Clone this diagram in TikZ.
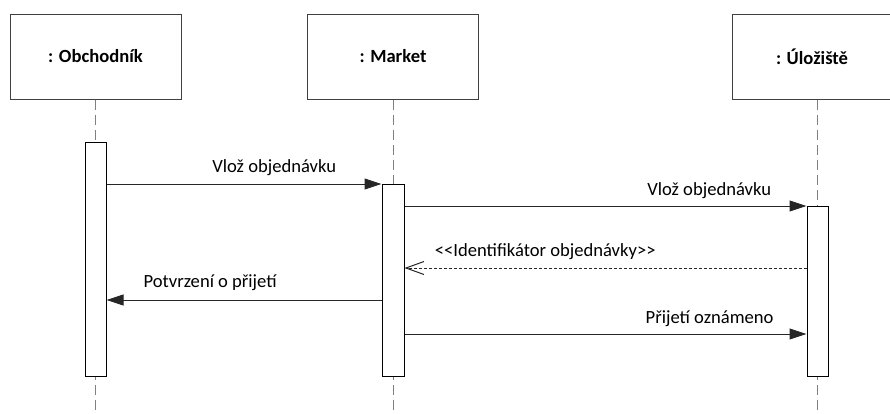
\documentclass[tikz,border=0pt]{standalone}
\usepackage{fontspec}
\setmainfont{Carlito}
\usepackage{xcolor}
\usepackage{tikz}
\usetikzlibrary{arrows.meta}
\definecolor{frame}{HTML}{404040}
\definecolor{life}{HTML}{808080}
\definecolor{wire}{HTML}{262626}
\tikzset{
  roleBox/.style={draw=frame, line width=1pt, minimum width=171pt, minimum height=85pt, inner sep=0pt, font=\fontsize{18.6}{22}\selectfont\bfseries},
  lifeLine/.style={draw=life, line width=1pt, dash pattern=on 10pt off 5pt},
  actBox/.style={draw=black, fill=white, line width=1pt, minimum width=21pt, inner sep=0pt},
  callMsg/.style={draw=wire, line width=1pt, -{Triangle[length=17pt,width=11pt]}},
  replyMsg/.style={draw=wire, line width=1pt, dash pattern=on 3pt off 2pt, -{Straight Barb[length=18pt,width=13pt]}},
  msgLbl/.style={font=\fontsize{18.6}{22}\selectfont, inner sep=0pt, anchor=base, text=black},
}

\begin{document}
\begin{tikzpicture}[x=1pt, y=-1pt]
  \useasboundingbox (0,0) rectangle (890,413);

  \node[roleBox] (obch) at (95.5,56.5) {: Obchodník};
  \node[roleBox] (market) at (393,56.5) {: Market};
  \node[roleBox, minimum width=160pt] (ulo) at (812,56.5) {: Úložiště};

  \coordinate (endO) at (95.5,413);
  \coordinate (endM) at (393,413);
  \coordinate (endU) at (817.5,413);
  \draw[lifeLine] (obch.south -| endO) -- (endO);
  \draw[lifeLine] (market.south -| endM) -- (endM);
  \draw[lifeLine] (ulo.south -| endU) -- (endU);

  \node[actBox, minimum height=234pt] (actO) at (95.5,259) {};
  \node[actBox, minimum width=22pt, minimum height=192pt] (actM) at (393,280) {};
  \node[actBox, minimum height=170pt] (actU) at (817.5,291) {};

  % message levels
  \coordinate (m1) at (0,184);
  \coordinate (m2) at (0,206);
  \coordinate (m3) at (0,268);
  \coordinate (m4) at (0,300);
  \coordinate (m5) at (0,334);

  \draw[callMsg] (actO.east |- m1) -- node[msgLbl, pos=0.61, yshift=11.5pt] (t1) {Vlož objednávku} (actM.west |- m1);
  \draw[callMsg] (actM.east |- m2) -- node[msgLbl, pos=0.758, yshift=11pt] (t2) {Vlož objednávku} (actU.west |- m2);
  \draw[replyMsg] (actU.west |- m3) -- node[msgLbl, pos=0.65, yshift=12pt] (t3) {<{}<Identifikátor objednávky>{}>} (actM.east |- m3);
  \draw[callMsg] (actM.west |- m4) -- node[msgLbl, pos=0.623, yshift=13pt] (t4) {Potvrzení o přijetí} (actO.east |- m4);
  \draw[callMsg] (actM.east |- m5) -- node[msgLbl, pos=0.759, yshift=11pt] (t5) {Přijetí oznámeno} (actU.west |- m5);
\end{tikzpicture}
\end{document}
